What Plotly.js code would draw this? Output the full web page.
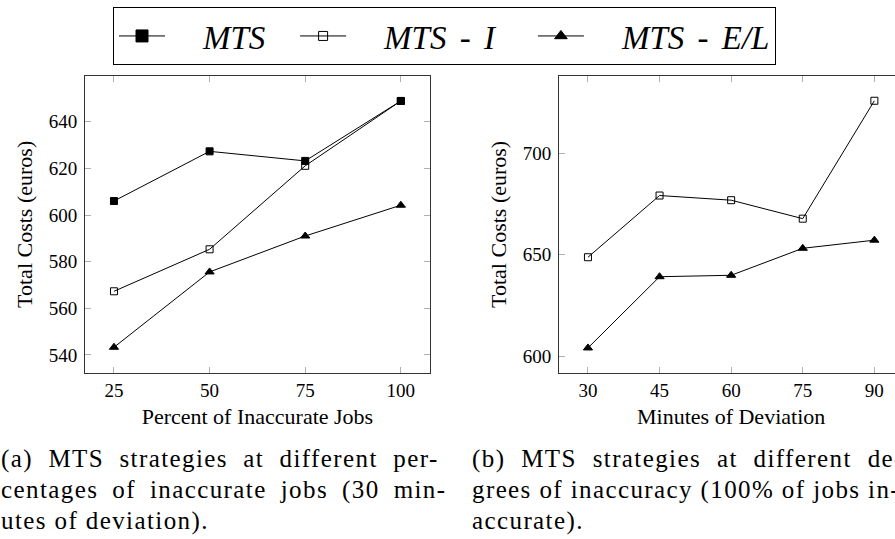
<!DOCTYPE html>
<html>
<head>
<meta charset="utf-8">
<script src="https://cdn.plot.ly/plotly-3.0.1.min.js"></script>
<style>
html,body{margin:0;padding:0;overflow:hidden;background:#fff;}
#chart{width:910px;height:539px;}
</style>
</head>
<body>
<div id="chart"></div>
<script>
// ---- data ----
const seriesNames = ['MTS', 'MTS - I', 'MTS - E/L'];

// (a) percent of inaccurate jobs
const pctJobs = [25, 50, 75, 100];
const mtsA   = [606.0, 627.3, 623.2, 648.9];
const mtsIA  = [567.3, 585.3, 621.1, 648.9];
const mtsELA = [543.3, 575.6, 591.0, 604.2];
const yTicksA = [540, 560, 580, 600, 620, 640];

// (b) minutes of deviation
const minutesDev = [30, 45, 60, 75, 90];
const mtsIB  = [648.7, 679.1, 676.8, 667.7, 725.8];
const mtsELB = [604.0, 639.1, 639.8, 653.1, 657.1];
const yTicksB = [600, 650, 700];

const captionA = ['(a) MTS strategies at different per-',
                  'centages of inaccurate jobs (30 min-',
                  'utes of deviation).'];
const captionB = ['(b) MTS strategies at different de-',
                  'grees of inaccuracy (100% of jobs in-',
                  'accurate).'];

// ---- styling ----
const W = 910, H = 539;
const FONT = 'Liberation Serif';
const px = v => v / W;
const py = v => 1 - v / H;
const NB = '\u00a0';

const sym = ['square', 'square-open', 'triangle-up'];
function tr(x, y, k, xa, ya) {
  return {
    x: x, y: y, xaxis: xa, yaxis: ya, type: 'scatter', mode: 'lines+markers',
    name: seriesNames[k], showlegend: false,
    line: {color: '#000', width: 1},
    marker: {symbol: sym[k], size: k === 2 ? 8 : 7, color: '#000', line: {color: '#000', width: 1}},
    hoverinfo: 'skip'
  };
}
// legend entries (larger markers, as in the reference legend)
const trailing = [3, 4, 0];
function legendProxy(k) {
  return {
    x: [null], y: [null], type: 'scatter', mode: 'lines+markers',
    name: NB.repeat(4) + '<span style="word-spacing:5px">' + seriesNames[k] + '</span>' + NB.repeat(trailing[k]),
    showlegend: true,
    line: {color: '#000', width: 1},
    marker: {symbol: sym[k], size: k === 1 ? 9 : (k === 2 ? 11 : 12), color: '#000', line: {color: '#000', width: 1}}
  };
}

const data = [
  tr(pctJobs, mtsA, 0, 'x', 'y'),
  tr(pctJobs, mtsIA, 1, 'x', 'y'),
  tr(pctJobs, mtsELA, 2, 'x', 'y'),
  tr(minutesDev, mtsIB, 1, 'x2', 'y2'),
  tr(minutesDev, mtsELB, 2, 'x2', 'y2'),
  legendProxy(0), legendProxy(1), legendProxy(2)
];

const axisCommon = {
  showgrid: false, zeroline: false, showline: true, linecolor: '#333', linewidth: 1.2,
  mirror: 'ticks', ticks: 'inside', ticklen: 6, tickcolor: '#b0b0b0', tickwidth: 1,
  tickfont: {family: FONT, size: 19, color: '#000'}
};

function xAxis(domain, range, ticks, title, anchor) {
  return Object.assign({}, axisCommon, {
    domain: domain, range: range, tickvals: ticks, anchor: anchor,
    ticklabelstandoff: 0,
    title: {text: title, font: {family: FONT, size: 22, color: '#000'}, standoff: 8}
  });
}
function yAxis(domain, range, ticks, anchor) {
  return Object.assign({}, axisCommon, {
    domain: domain, range: range, tickvals: ticks, anchor: anchor,
    ticklabelstandoff: 3,
    title: {text: 'Total Costs (euros)', font: {family: FONT, size: 22, color: '#000'}, standoff: 10}
  });
}

const yDom = [py(372.7), py(76)];
const layout = {
  width: W, height: H,
  margin: {l: 0, r: 0, t: 0, b: 0},
  paper_bgcolor: '#fff', plot_bgcolor: '#fff',
  font: {family: FONT, color: '#000'},
  showlegend: true,
  legend: {
    orientation: 'h', x: px(113), y: py(7), xanchor: 'left', yanchor: 'top',
    bordercolor: '#000', borderwidth: 1, bgcolor: '#fff',
    font: {family: FONT, size: 33, style: 'italic', color: '#000'},
    itemwidth: 46
  },
  xaxis: xAxis([px(85.3), px(429.5)], [17.5, 107.5], pctJobs, 'Percent of Inaccurate Jobs', 'y'),
  yaxis: yAxis(yDom, [532.4, 659.6], yTicksA, 'x'),
  xaxis2: xAxis([px(559.3), px(903)], [24, 96], minutesDev, 'Minutes of Deviation', 'y2'),
  yaxis2: yAxis(yDom, [591.8, 738.0], yTicksB, 'x2'),
  annotations: []
};

// caption lines: letter/word spacing approximates the justified LaTeX text
const capY = [459, 490, 521];
const wsA = [7.8, 6.4, 0];
const wsB = [8.2, 0, 0];
function capText(t, ws) {
  return '<span style="letter-spacing:1.4px;word-spacing:' + ws + 'px">' + t + '</span>';
}
captionA.forEach((t, i) => layout.annotations.push({
  xref: 'paper', yref: 'paper', x: px(-1), y: py(capY[i]), xanchor: 'left', yanchor: 'middle',
  text: capText(t, wsA[i]), showarrow: false, font: {family: FONT, size: 25, color: '#000'}
}));
captionB.forEach((t, i) => layout.annotations.push({
  xref: 'paper', yref: 'paper', x: px(470), y: py(capY[i]), xanchor: 'left', yanchor: 'middle',
  text: capText(t, wsB[i]), showarrow: false, font: {family: FONT, size: 25, color: '#000'}
}));

Plotly.newPlot('chart', data, layout, {displayModeBar: false, staticPlot: true});
</script>
</body>
</html>
